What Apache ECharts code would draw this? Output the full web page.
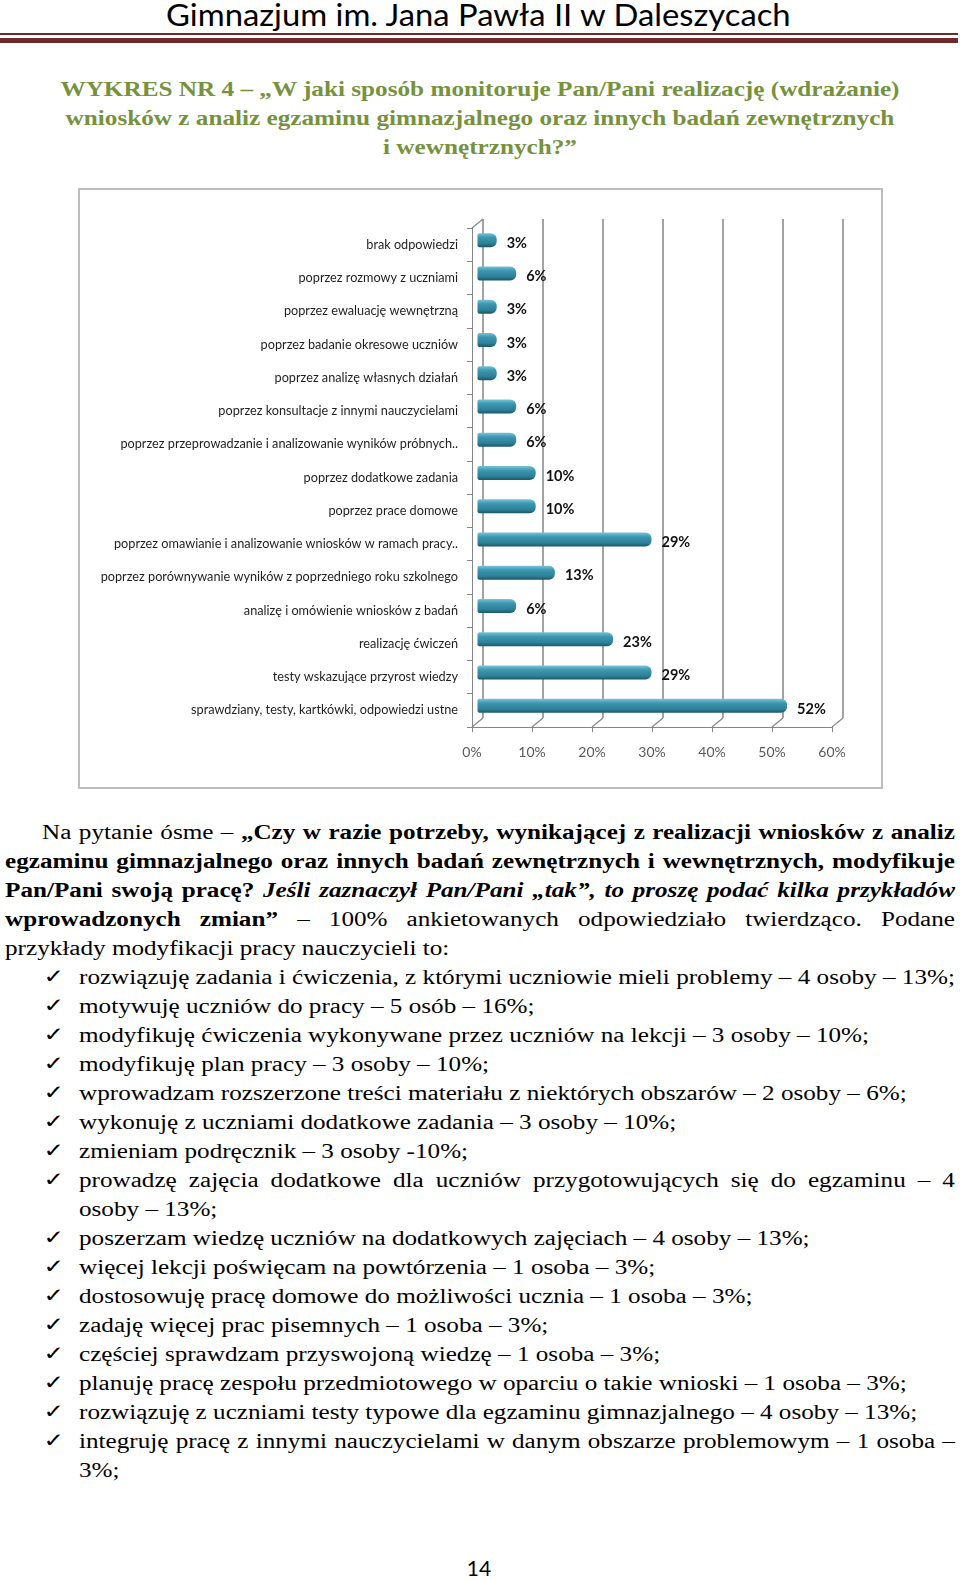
<!DOCTYPE html>
<html>
<head>
<meta charset="utf-8">
<script src="https://cdn.jsdelivr.net/npm/echarts@6/dist/echarts.min.js"></script>
<style>
    body{
        margin:0;
        background:#fff;
    }
    .page{
        position:relative;
        width:960px;
        height:1580px;
        overflow:hidden;
    }
    .head{
        position:absolute;
        left:166px;
        top:-1px;
        font-family:Lato, sans-serif;
        font-size:30px;
        line-height:30px;
        white-space:nowrap;
        transform-origin:0 0;
    }
    .rule1{
        position:absolute;
        left:0;
        top:33px;
        width:958px;
        height:2px;
        background:#6e2a28;
    }
    .rule2{
        position:absolute;
        left:0;
        top:38px;
        width:958px;
        height:5px;
        background:#6e2a28;
    }
    .stretch{
        position:absolute;
        left:0;
        transform-origin:0 0;
        font-family:"Liberation Serif", serif;
        color:#000;
    }
    .title{
        top:75px;
        width:800px;
        transform:scaleX(1.2);
        color:#76923c;
        font-weight:bold;
        font-size:21px;
        line-height:29px;
        text-align:center;
    }
    .text{
        top:818px;
        width:782px;
        transform:scaleX(1.227);
        font-size:20.5px;
        line-height:29px;
    }
    .ln{
        height:29px;
        white-space:nowrap;
    }
    .jf{
        text-align:justify;
        text-align-last:justify;
        white-space:normal;
    }
    .par{
        margin-left:4.1px;
        width:774.2px;
    }
    .li{
        position:relative;
        margin-left:64.4px;
        width:713.9px;
    }
    .ck{
        position:absolute;
        left:-29px;
        top:-1px;
        font-family:"DejaVu Sans", sans-serif;
        font-size:20px;
    }
    #frame{
        position:absolute;
        left:78px;
        top:188px;
        width:805px;
        height:601px;
        box-sizing:border-box;
        border:2px solid #bdbdbd;
    }
    #chart{
        position:absolute;
        left:78px;
        top:188px;
        width:805px;
        height:601px;
    }
    .num{
        position:absolute;
        left:0;
        width:958px;
        top:1555px;
        text-align:center;
        font-family:Lato, sans-serif;
        font-size:21px;
    }
</style>
</head>
<body>
<div class="page">
    <div class="head" id="head">Gimnazjum im. Jana Pawła II w Daleszycach</div>
    <div class="rule1"></div>
    <div class="rule2"></div>

    <div class="stretch title">
        <div>WYKRES NR 4 – „W jaki sposób monitoruje Pan/Pani realizację (wdrażanie)</div>
        <div>wniosków z analiz egzaminu gimnazjalnego oraz innych badań zewnętrznych</div>
        <div>i wewnętrznych?”</div>
    </div>

    <div id="frame"></div>
    <div id="chart"></div>

    <div class="stretch text">
        <div class="ln jf par" style="text-indent:30.2px">Na pytanie ósme – <b>„Czy w razie potrzeby, wynikającej z realizacji wniosków z analiz</b></div>
        <div class="ln jf par"><b>egzaminu gimnazjalnego oraz innych badań zewnętrznych i wewnętrznych, modyfikuje</b></div>
        <div class="ln jf par"><b>Pan/Pani swoją pracę? <i>Jeśli zaznaczył Pan/Pani „tak”, to proszę podać kilka przykładów</i></b></div>
        <div class="ln jf par"><b>wprowadzonych zmian”</b> – 100% ankietowanych odpowiedziało twierdząco. Podane</div>
        <div class="ln par">przykłady modyfikacji pracy nauczycieli to:</div>
        <div class="ln li"><span class="ck">✓</span>rozwiązuję zadania i ćwiczenia, z którymi uczniowie mieli problemy – 4 osoby – 13%;</div>
        <div class="ln li"><span class="ck">✓</span>motywuję uczniów do pracy – 5 osób – 16%;</div>
        <div class="ln li"><span class="ck">✓</span>modyfikuję ćwiczenia wykonywane przez uczniów na lekcji – 3 osoby – 10%;</div>
        <div class="ln li"><span class="ck">✓</span>modyfikuję plan pracy – 3 osoby – 10%;</div>
        <div class="ln li"><span class="ck">✓</span>wprowadzam rozszerzone treści materiału z niektórych obszarów – 2 osoby – 6%;</div>
        <div class="ln li"><span class="ck">✓</span>wykonuję z uczniami dodatkowe zadania – 3 osoby – 10%;</div>
        <div class="ln li"><span class="ck">✓</span>zmieniam podręcznik – 3 osoby -10%;</div>
        <div class="ln li jf"><span class="ck">✓</span>prowadzę zajęcia dodatkowe dla uczniów przygotowujących się do egzaminu – 4</div>
        <div class="ln li">osoby – 13%;</div>
        <div class="ln li"><span class="ck">✓</span>poszerzam wiedzę uczniów na dodatkowych zajęciach – 4 osoby – 13%;</div>
        <div class="ln li"><span class="ck">✓</span>więcej lekcji poświęcam na powtórzenia – 1 osoba – 3%;</div>
        <div class="ln li"><span class="ck">✓</span>dostosowuję pracę domowe do możliwości ucznia – 1 osoba – 3%;</div>
        <div class="ln li"><span class="ck">✓</span>zadaję więcej prac pisemnych – 1 osoba – 3%;</div>
        <div class="ln li"><span class="ck">✓</span>częściej sprawdzam przyswojoną wiedzę – 1 osoba – 3%;</div>
        <div class="ln li"><span class="ck">✓</span>planuję pracę zespołu przedmiotowego w oparciu o takie wnioski – 1 osoba – 3%;</div>
        <div class="ln li"><span class="ck">✓</span>rozwiązuję z uczniami testy typowe dla egzaminu gimnazjalnego – 4 osoby – 13%;</div>
        <div class="ln li jf"><span class="ck">✓</span>integruję pracę z innymi nauczycielami w danym obszarze problemowym – 1 osoba –</div>
        <div class="ln li">3%;</div>
    </div>

    <div class="num">14</div>
</div>

<script>
    // dane wykresu
    var categories = [
        'brak odpowiedzi',
        'poprzez rozmowy z uczniami',
        'poprzez ewaluację wewnętrzną',
        'poprzez badanie okresowe uczniów',
        'poprzez analizę własnych działań',
        'poprzez konsultacje z innymi nauczycielami',
        'poprzez przeprowadzanie i analizowanie wyników próbnych..',
        'poprzez dodatkowe zadania',
        'poprzez prace domowe',
        'poprzez omawianie i analizowanie wniosków w ramach pracy..',
        'poprzez porównywanie wyników z poprzedniego roku szkolnego',
        'analizę i omówienie wniosków z badań',
        'realizację ćwiczeń',
        'testy wskazujące przyrost wiedzy',
        'sprawdziany, testy, kartkówki, odpowiedzi ustne'
    ];
    var values = [3.2, 6.45, 3.2, 3.2, 3.2, 6.45, 6.45, 9.7, 9.7, 29.0, 12.9, 6.45, 22.6, 29.0, 51.6];
    var ticks = [0, 10, 20, 30, 40, 50, 60];

    // naglowek dopasowany do szerokosci
    var head = document.getElementById('head');
    head.style.transform = 'scaleX(' + (625 / head.scrollWidth) + ')';

    var depth = [11, -9];
    var axisGray = '#868686';

    var myChart = echarts.init(document.getElementById('chart'));
    myChart.setOption({
        animation: false,
        grid: [
            {left: 394, top: 40, width: 360, height: 499, outerBoundsMode: 'none'},
            {left: 405, top: 31, width: 360, height: 499, outerBoundsMode: 'none'},
            {left: 399.5, top: 35.5, width: 360, height: 499, outerBoundsMode: 'none'}
        ],
        xAxis: [
            {
                gridIndex: 0,
                type: 'value',
                min: ticks[0],
                max: ticks[ticks.length - 1],
                interval: 10,
                axisLine: {show: true, lineStyle: {color: axisGray}},
                axisTick: {show: true, length: 5, lineStyle: {color: axisGray}},
                splitLine: {show: false},
                axisLabel: {
                    formatter: '{value}%',
                    margin: 18,
                    color: '#595959',
                    fontSize: 14,
                    fontFamily: 'Lato'
                }
            },
            {
                gridIndex: 1,
                type: 'value',
                min: ticks[0],
                max: ticks[ticks.length - 1],
                interval: 10,
                axisLine: {show: false},
                axisTick: {show: false},
                axisLabel: {show: false},
                splitLine: {show: true, lineStyle: {color: '#a3a3a3', width: 2}}
            },
            {
                gridIndex: 2,
                type: 'value',
                min: ticks[0],
                max: ticks[ticks.length - 1],
                interval: 10,
                show: false,
                splitLine: {show: false}
            }
        ],
        yAxis: [
            {
                gridIndex: 0,
                type: 'category',
                data: categories,
                inverse: true,
                axisLine: {show: true, lineStyle: {color: axisGray}},
                axisTick: {show: true, length: 5, lineStyle: {color: axisGray}},
                axisLabel: {
                    margin: 14,
                    color: '#1f1f1f',
                    fontSize: 12.7,
                    fontFamily: 'Lato'
                }
            },
            {gridIndex: 1, type: 'category', data: categories, inverse: true, show: false},
            {gridIndex: 2, type: 'category', data: categories, inverse: true, show: false}
        ],
        series: [
            {
                // skosne linie podlogi i sciany
                type: 'custom',
                xAxisIndex: 0,
                yAxisIndex: 0,
                silent: true,
                data: ticks.map(function (v) { return [v, 0]; }),
                renderItem: function (params, api) {
                    var cs = params.coordSys;
                    var x = api.coord([api.value(0), 0])[0];
                    var y = cs.y + cs.height;
                    var style = {stroke: axisGray, lineWidth: 1.2};
                    var children = [{
                        type: 'line',
                        shape: {x1: x, y1: y, x2: x + depth[0], y2: y + depth[1]},
                        style: style
                    }];
                    if (params.dataIndex === 0) {
                        children.push({
                            type: 'line',
                            shape: {x1: cs.x, y1: cs.y, x2: cs.x + depth[0], y2: cs.y + depth[1]},
                            style: style
                        });
                    }
                    return {type: 'group', children: children};
                }
            },
            {
                type: 'bar',
                xAxisIndex: 2,
                yAxisIndex: 2,
                data: values,
                barWidth: 14,
                itemStyle: {
                    color: new echarts.graphic.LinearGradient(0, 0, 0, 1, [
                        {offset: 0, color: '#78c4d8'},
                        {offset: 0.3, color: '#3d98b0'},
                        {offset: 0.75, color: '#2c7f96'},
                        {offset: 1, color: '#1c5565'}
                    ]),
                    borderRadius: [2, 6, 6, 2]
                },
                label: {
                    show: true,
                    position: 'right',
                    distance: 10,
                    offset: [0, 3],
                    formatter: function (p) { return Math.round(p.value) + '%'; },
                    color: '#111',
                    fontSize: 14.5,
                    fontWeight: 'bold',
                    fontFamily: 'Lato'
                }
            }
        ]
    });
</script>
</body>
</html>
